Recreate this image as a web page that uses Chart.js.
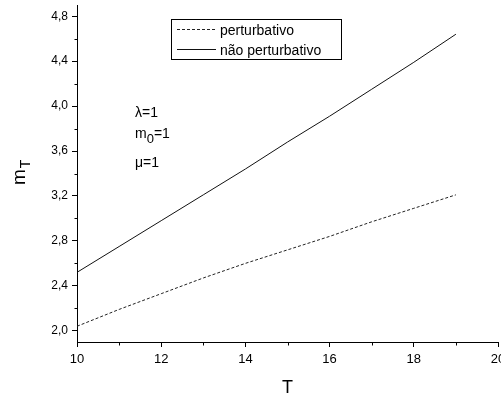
<!DOCTYPE html>
<html>
<head>
<meta charset="utf-8">
<script src="https://cdn.jsdelivr.net/npm/chart.js@4/dist/chart.umd.min.js"></script>
<style>
html,body{margin:0;padding:0;background:#fff;}
#wrap{width:501px;height:397px;}
</style>
</head>
<body>
<div id="wrap"><canvas id="c" width="501" height="397"></canvas></div>
<script>
const temperatures = [10, 11, 12, 13, 14, 15, 16, 17, 18, 19];
const perturbativo = [2.04, 2.19, 2.33, 2.47, 2.60, 2.72, 2.84, 2.97, 3.09, 3.21];
const naoPerturbativo = [2.52, 2.75, 2.98, 3.21, 3.44, 3.68, 3.91, 4.15, 4.39, 4.64];
const seriesLabels = ['perturbativo', 'não perturbativo'];
const xMajorTicks = [10, 12, 14, 16, 18, 20];
const xMinorTicks = [11, 13, 15, 17, 19];
const yMajorTicks = [2.0, 2.4, 2.8, 3.2, 3.6, 4.0, 4.4, 4.8];
const yMinorTicks = [2.2, 2.6, 3.0, 3.4, 3.8, 4.2, 4.6];
const paramLines = ['λ=1', 'm', 'μ=1'];
const xTitle = 'T';

const FONT = "'Liberation Sans', Arial, sans-serif";

const decor = {
  id: 'decor',
  afterDraw(chart) {
    const ctx = chart.ctx;
    const xs = chart.scales.x, ys = chart.scales.y;
    ctx.save();
    // minor ticks
    ctx.strokeStyle = '#000';
    ctx.lineWidth = 1;
    ctx.beginPath();
    xMinorTicks.forEach(v => {
      const px = Math.round(xs.getPixelForValue(v)) + 0.5;
      const py = chart.chartArea.bottom + 0.5;
      ctx.moveTo(px, py); ctx.lineTo(px, py + 3);
    });
    yMinorTicks.forEach(v => {
      const py = Math.round(ys.getPixelForValue(v)) + 0.5;
      const px = chart.chartArea.left + 0.5;
      ctx.moveTo(px, py); ctx.lineTo(px - 3, py);
    });
    ctx.stroke();

    // legend box
    ctx.fillStyle = '#000';
    ctx.lineWidth = 1;
    ctx.strokeRect(171.5, 19.5, 170, 40);
    const rows = [29.5, 49.5];
    chart.data.datasets.forEach((ds, i) => {
      ctx.beginPath();
      ctx.setLineDash(ds.borderDash || []);
      ctx.lineWidth = 1;
      ctx.strokeStyle = ds.borderColor;
      ctx.moveTo(177, rows[i]); ctx.lineTo(216, rows[i]);
      ctx.stroke();
      ctx.setLineDash([]);
      ctx.font = '14px ' + FONT;
      ctx.fillStyle = '#000';
      ctx.textBaseline = 'alphabetic';
      ctx.textAlign = 'left';
      ctx.fillText(ds.label, 220, rows[i] + 5.5);
    });

    // parameters
    ctx.font = '14px ' + FONT;
    ctx.fillText(paramLines[0], 135, 117);
    ctx.fillText(paramLines[1], 135, 138);
    let w = ctx.measureText(paramLines[1]).width;
    ctx.font = '13px ' + FONT;
    ctx.fillText('0', 135 + w, 143);
    const w0 = ctx.measureText('0').width;
    ctx.font = '14px ' + FONT;
    ctx.fillText('=1', 135 + w + w0, 138);
    ctx.fillText(paramLines[2], 135, 167);

    // x title
    ctx.font = '18px ' + FONT;
    ctx.textAlign = 'center';
    ctx.fillText(xTitle, (chart.chartArea.left + chart.chartArea.right) / 2, 393);

    // y title m_T
    ctx.save();
    ctx.translate(25, 185);
    ctx.rotate(-Math.PI / 2);
    ctx.textAlign = 'left';
    ctx.font = '19px ' + FONT;
    ctx.fillText('m', 0, 0);
    const mw = ctx.measureText('m').width;
    ctx.font = '14px ' + FONT;
    ctx.fillText('T', mw + 1, 5);
    ctx.restore();
    ctx.restore();
  }
};

new Chart(document.getElementById('c'), {
  type: 'line',
  data: {
    datasets: [
      {
        label: seriesLabels[0],
        data: temperatures.map((t, i) => ({x: t, y: perturbativo[i]})),
        borderColor: '#222',
        borderWidth: 1,
        borderDash: [3, 2],
        pointRadius: 0,
        fill: false,
        tension: 0
      },
      {
        label: seriesLabels[1],
        data: temperatures.map((t, i) => ({x: t, y: naoPerturbativo[i]})),
        borderColor: '#111',
        borderWidth: 1,
        pointRadius: 0,
        fill: false,
        tension: 0
      }
    ]
  },
  options: {
    responsive: false,
    animation: false,
    devicePixelRatio: 1,
    layout: {padding: {left: 0, right: 3, top: 5, bottom: 0}},
    plugins: {legend: {display: false}, tooltip: {enabled: false}},
    scales: {
      x: {
        type: 'linear',
        min: 10, max: 20,
        afterBuildTicks: s => { s.ticks = xMajorTicks.map(v => ({value: v})); },
        afterFit: s => { s.height = 55; s.paddingRight = 0; s.paddingLeft = 0; },
        grid: {drawOnChartArea: false, drawTicks: true, tickLength: 5, color: '#000', lineWidth: 1},
        border: {display: true, color: '#000', width: 1},
        ticks: {
          color: '#000', font: {family: FONT, size: 13}, padding: 5,
          maxRotation: 0, autoSkip: false,
          callback: v => String(v)
        }
      },
      y: {
        type: 'linear',
        min: 1.9, max: 4.9,
        afterBuildTicks: s => { s.ticks = yMajorTicks.map(v => ({value: v})); },
        afterFit: s => { s.width = 77; s.paddingTop = 0; s.paddingBottom = 0; },
        grid: {drawOnChartArea: false, drawTicks: true, tickLength: 5, color: '#000', lineWidth: 1},
        border: {display: true, color: '#000', width: 1},
        ticks: {
          color: '#000', font: {family: FONT, size: 12}, padding: 4,
          autoSkip: false,
          callback: v => Number(v).toFixed(1).replace('.', ',')
        }
      }
    }
  },
  plugins: [decor]
});
</script>
</body>
</html>
